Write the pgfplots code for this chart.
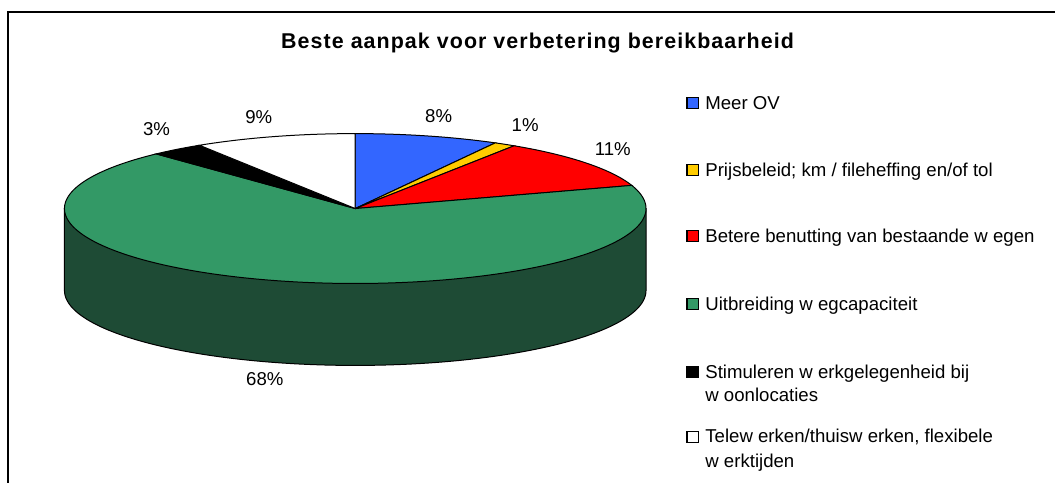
\documentclass[border=0pt]{standalone}
\usepackage{fontspec}
\setmainfont{Liberation Sans}
\usepackage{pgfplots}
\pgfplotsset{compat=1.18}
\definecolor{cBlue}{HTML}{3366FF}
\definecolor{cYellow}{HTML}{FFCC00}
\definecolor{cRed}{HTML}{FF0000}
\definecolor{cGreen}{HTML}{339966}
\definecolor{cSide}{HTML}{1E4B35}
% pie geometry (pixels)
\def\cx{355.5}\def\cy{208.7}\def\rx{291}\def\ry{75}\def\dep{82}
% data (percent)
\def\vA{8.0}   % Meer OV
\def\vB{1.2}   % Prijsbeleid
\def\vC{10.8}  % Betere benutting
\def\vD{68.0}  % Uitbreiding wegcapaciteit
\def\vE{3.0}   % Stimuleren werkgelegenheid
\def\vF{9.0}   % Telewerken
\pgfmathsetmacro\aA{90}
\pgfmathsetmacro\aB{\aA-3.6*\vA}
\pgfmathsetmacro\aC{\aB-3.6*\vB}
\pgfmathsetmacro\aD{\aC-3.6*\vC}
\pgfmathsetmacro\aE{\aD-3.6*\vD}
\pgfmathsetmacro\aF{\aE-3.6*\vE}
\pgfmathsetmacro\aG{\aF-3.6*\vF}
\pgfmathsetmacro\xL{\cx-\rx}
\pgfmathsetmacro\xR{\cx+\rx}
\newcommand{\lf}{\fontsize{18.7}{22}\selectfont}
\begin{document}
\begin{tikzpicture}
\begin{axis}[scale only axis, width=1056bp, height=483bp,
  xmin=0, xmax=1056, ymin=0, ymax=483, y dir=reverse,
  axis lines=none, ticks=none, clip=false]
\path (axis cs:0,0) rectangle (axis cs:1056,483);
% frame
\draw[line width=1.6bp, black] (axis cs:8,483) -- (axis cs:8,12) -- (axis cs:1056,12);
% title
\node[anchor=base, font={\fontsize{21.5}{24}\selectfont\bfseries\addfontfeature{LetterSpace=5}}] at (axis cs:538,48.8) {Beste aanpak voor verbetering bereikbaarheid};
% side of the pie
\addplot[fill=cSide, draw=black, line width=1bp, domain=-180:0, samples=120, variable=\t]
  ({\cx+\rx*cos(\t)},{\cy-\ry*sin(\t)+\dep}) -- (axis cs:\xR,\cy) -- (axis cs:\xL,\cy) -- cycle;
% top slices
\addplot[fill=cBlue, draw=black, line width=1bp, domain=\aB:\aA, samples=40, variable=\t]
  ({\cx+\rx*cos(\t)},{\cy-\ry*sin(\t)}) -- (axis cs:\cx,\cy) -- cycle;
\addplot[fill=cYellow, draw=black, line width=1bp, domain=\aC:\aB, samples=10, variable=\t]
  ({\cx+\rx*cos(\t)},{\cy-\ry*sin(\t)}) -- (axis cs:\cx,\cy) -- cycle;
\addplot[fill=cRed, draw=black, line width=1bp, domain=\aD:\aC, samples=40, variable=\t]
  ({\cx+\rx*cos(\t)},{\cy-\ry*sin(\t)}) -- (axis cs:\cx,\cy) -- cycle;
\addplot[fill=cGreen, draw=black, line width=1bp, domain=\aE:\aD, samples=200, variable=\t]
  ({\cx+\rx*cos(\t)},{\cy-\ry*sin(\t)}) -- (axis cs:\cx,\cy) -- cycle;
\addplot[fill=black, draw=black, line width=1bp, domain=\aF:\aE, samples=20, variable=\t]
  ({\cx+\rx*cos(\t)},{\cy-\ry*sin(\t)}) -- (axis cs:\cx,\cy) -- cycle;
\addplot[fill=white, draw=black, line width=1bp, domain=\aG:\aF, samples=40, variable=\t]
  ({\cx+\rx*cos(\t)},{\cy-\ry*sin(\t)}) -- (axis cs:\cx,\cy) -- cycle;
% percentage labels
\node[anchor=base, font=\lf] at (axis cs:439,122.7) {8\%};
\node[anchor=base, font=\lf] at (axis cs:525.5,131.7) {1\%};
\node[anchor=base, font=\lf] at (axis cs:613.3,155.3) {11\%};
\node[anchor=base, font=\lf] at (axis cs:265,386) {68\%};
\node[anchor=base, font=\lf] at (axis cs:156.6,136) {3\%};
\node[anchor=base, font=\lf] at (axis cs:259,124) {9\%};
% legend
\draw[fill=cBlue, line width=1.2bp] (axis cs:687.5,97.5) rectangle (axis cs:699,108.5);
\node[anchor=base west, inner sep=0pt, font=\lf] at (axis cs:705.7,109.3) {Meer OV};
\draw[fill=cYellow, line width=1.2bp] (axis cs:687.5,165) rectangle (axis cs:699,176);
\node[anchor=base west, inner sep=0pt, font=\lf] at (axis cs:705.7,176.7) {Prijsbeleid; km / fileheffing en/of tol};
\draw[fill=cRed, line width=1.2bp] (axis cs:687.5,231) rectangle (axis cs:699,242);
\node[anchor=base west, inner sep=0pt, font=\lf] at (axis cs:705.7,242.7) {Betere benutting van bestaande w egen};
\draw[fill=cGreen, line width=1.2bp] (axis cs:687.5,299) rectangle (axis cs:699,310);
\node[anchor=base west, inner sep=0pt, font=\lf] at (axis cs:705.7,310.7) {Uitbreiding w egcapaciteit};
\draw[fill=black, line width=1.2bp] (axis cs:687.5,367) rectangle (axis cs:699,378);
\node[anchor=base west, inner sep=0pt, font=\lf] at (axis cs:705.7,379) {Stimuleren w erkgelegenheid bij};
\node[anchor=base west, inner sep=0pt, font=\lf] at (axis cs:705.7,401.7) {w oonlocaties};
\draw[fill=white, line width=1.2bp] (axis cs:687.5,432) rectangle (axis cs:699,443);
\node[anchor=base west, inner sep=0pt, font=\lf] at (axis cs:705.7,443.3) {Telew erken/thuisw erken, flexibele};
\node[anchor=base west, inner sep=0pt, font=\lf] at (axis cs:705.7,468.3) {w erktijden};
\end{axis}
\end{tikzpicture}
\end{document}
